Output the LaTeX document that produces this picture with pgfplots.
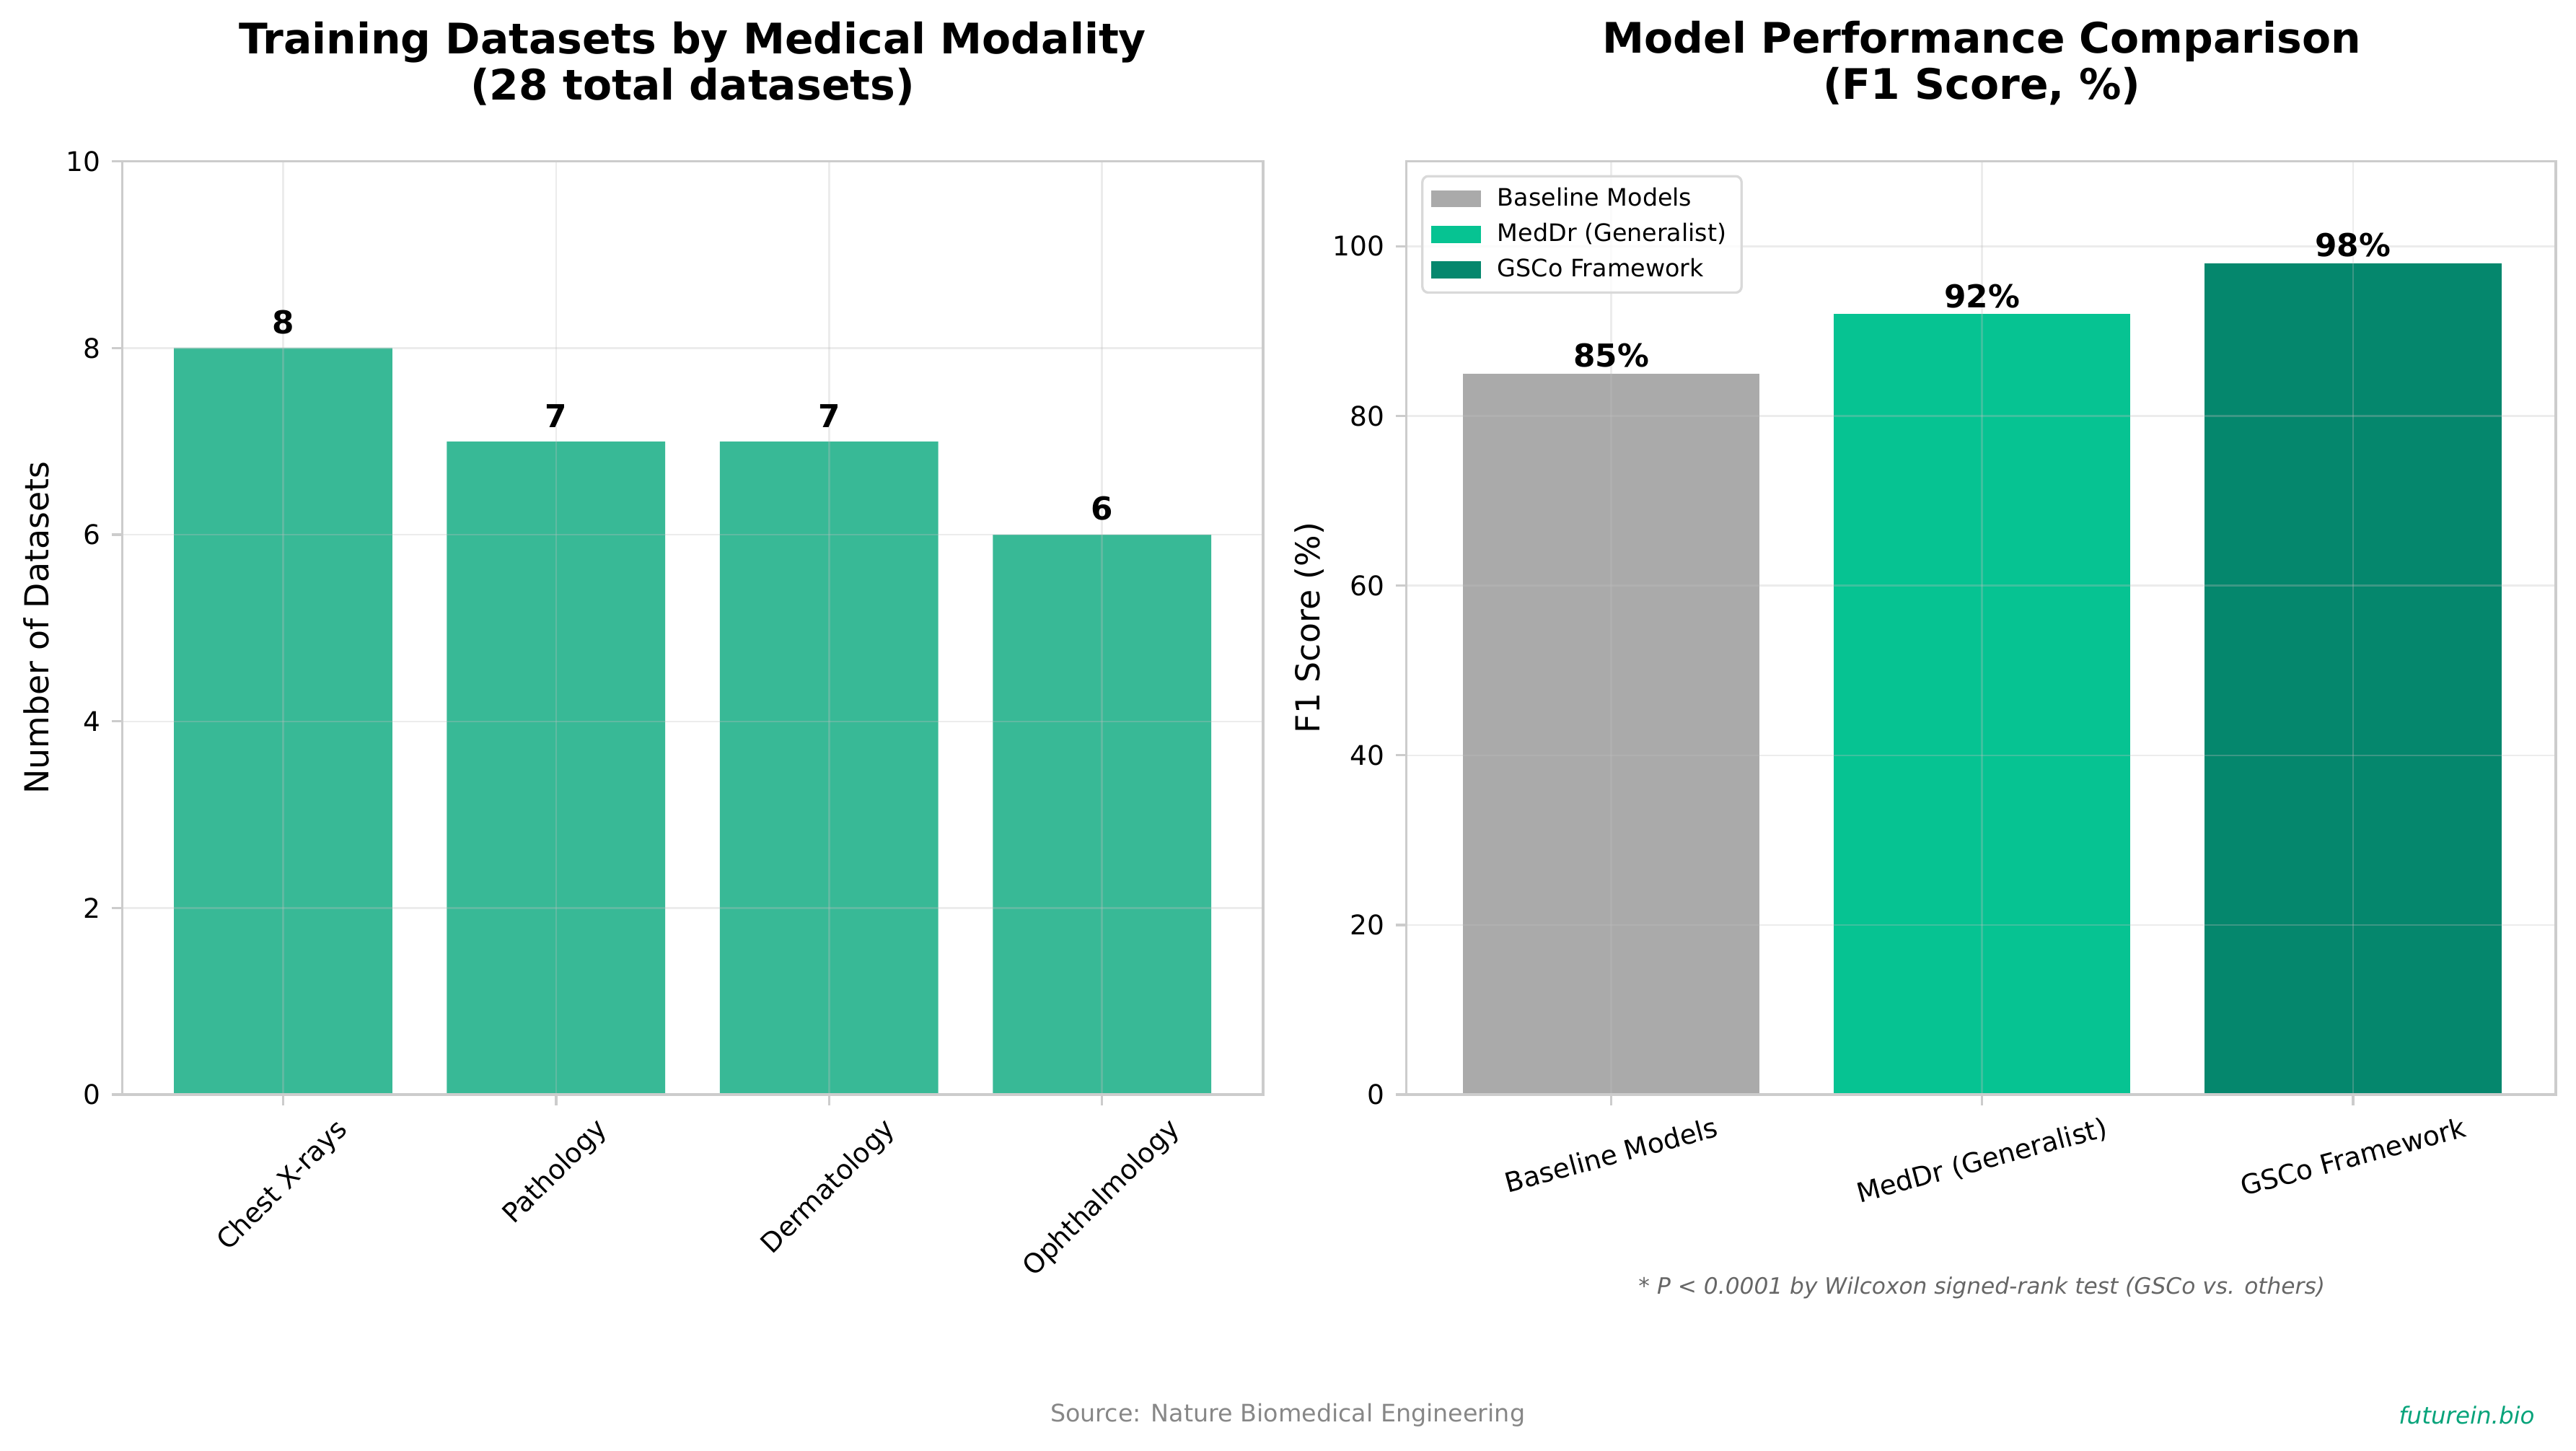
\documentclass[border=0pt]{standalone}
\usepackage{pgfplots}
\pgfplotsset{compat=1.18}
\usepackage{fontspec}
\setmainfont{DejaVu Sans}

\definecolor{modgreen}{HTML}{38B996}
\definecolor{basegray}{HTML}{AAAAAA}
\definecolor{meddr}{HTML}{06C392}
\definecolor{gsco}{HTML}{05876D}
\definecolor{spine}{HTML}{CCCCCC}
\definecolor{brand}{HTML}{06A37A}

\newcommand{\fs}[2]{\fontsize{#1}{#2}\selectfont}

\pgfplotsset{
  panel/.style={
    scale only axis,
    anchor=south west,
    axis on top,
    ybar,
    bar width=0.8,
    axis line style={draw=spine, line width=0.8pt},
    tick align=outside,
    major tick length=3.5pt,
    tick style={draw=spine, line width=0.8pt},
    xtick pos=bottom, ytick pos=left,
    grid=major,
    major grid style={draw=gray!50, opacity=0.3, line width=0.6pt},
    /pgf/number format/assume math mode=true,
    ticklabel style={font=\fs{9}{10.8}},
    xticklabel style={anchor=north, inner sep=3.5pt},
    yticklabel style={inner sep=3.5pt},
  }
}

\begin{document}
\begin{tikzpicture}
\useasboundingbox (0,0) rectangle (857pt,482.4pt);

% Left panel: number of datasets per modality
\begin{axis}[panel,
  at={(40.6pt,118.3pt)},
  width=379.6pt, height=310.4pt,
  xmin=-0.59, xmax=3.59,
  ymin=0, ymax=10,
  ytick={0,2,4,6,8,10},
  xtick={0,1,2,3},
  xticklabels={\rotatebox{45}{Chest X-rays},\rotatebox{45}{Pathology},\rotatebox{45}{Dermatology},\rotatebox{45}{Ophthalmology}},
  nodes near coords,
  nodes near coords style={font=\bfseries\fs{10.5}{12.6}, anchor=south, inner sep=0pt, yshift=4.5pt},
]
\addplot[fill=modgreen, draw=none, bar shift=0pt] coordinates {(0,8) (1,7) (2,7) (3,6)};
\end{axis}

% Right panel: F1 scores
\begin{axis}[panel,
  at={(467.8pt,118.3pt)},
  width=382.5pt, height=310.4pt,
  xmin=-0.553, xmax=2.547,
  ymin=0, ymax=110,
  ytick={0,20,40,60,80,100},
  xtick={0,1,2},
  xticklabels={\rotatebox{15}{Baseline Models},\rotatebox{15}{MedDr (Generalist)},\rotatebox{15}{GSCo Framework}},
  nodes near coords={\pgfmathprintnumber{\pgfplotspointmeta}\%},
  nodes near coords style={font=\bfseries\fs{10.5}{12.6}, anchor=south, inner sep=0pt, yshift=1.8pt},
  legend style={at={(0,1)}, anchor=north west, xshift=5pt, yshift=-4.5pt,
    font=\fs{8}{9.6}, draw=gray!30, line width=0.8pt, rounded corners=2pt,
    fill=white, fill opacity=0.8, text opacity=1,
    row sep=0.2pt, inner xsep=3pt, inner ysep=1.8pt},
  legend cell align=left,
  legend image code/.code={\path[#1, sharp corners, fill opacity=1] (0pt,-2.8pt) rectangle (16.5pt,2.8pt); \path (20pt,0pt);},
]
\addplot[fill=basegray, draw=none, bar shift=0pt] coordinates {(0,85)};
\addlegendentry{Baseline Models}
\addplot[fill=meddr, draw=none, bar shift=0pt] coordinates {(1,92)};
\addlegendentry{MedDr (Generalist)}
\addplot[fill=gsco, draw=none, bar shift=0pt] coordinates {(2,98)};
\addlegendentry{GSCo Framework}
\end{axis}

% Titles
\node[anchor=south, align=center, font=\bfseries\fs{14}{15.3}, inner sep=0pt] at (230.4pt,447.2pt)
  {Training Datasets by Medical Modality\\(28 total datasets)};
\node[anchor=south, align=center, font=\bfseries\fs{14}{15.3}, inner sep=0pt] at (659.3pt,447.2pt)
  {Model Performance Comparison\\(F1 Score, \%)};

% Axis labels
\node[rotate=90, font=\fs{11}{13.2}] at (12pt,273.6pt) {Number of Datasets};
\node[rotate=90, font=\fs{11}{13.2}] at (435.6pt,273.6pt) {F1 Score (\%)};

% Notes
\node[font=\itshape\fs{7.5}{9}, text=black!60] at (659.3pt,54pt)
  {* P < 0.0001 by Wilcoxon signed-rank test (GSCo vs. others)};
\node[font=\fs{8}{9.6}, text=black!47] at (428.4pt,11.8pt) {Source: Nature Biomedical Engineering};
\node[anchor=east, font=\itshape\fs{7.8}{9.4}, text=brand, inner sep=0pt] at (843.4pt,11.8pt) {futurein.bio};
\end{tikzpicture}
\end{document}
